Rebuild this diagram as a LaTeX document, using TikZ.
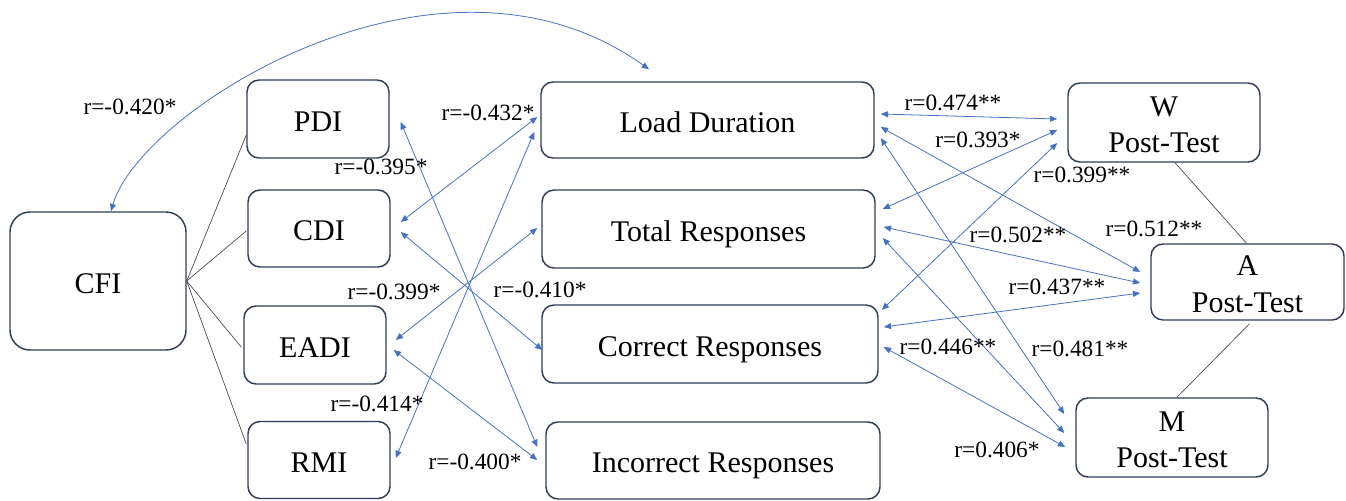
\documentclass[tikz,border=0pt]{standalone}
\usepackage{fontspec}
\setmainfont{Liberation Serif}
\usetikzlibrary{arrows.meta}
\definecolor{arrowblue}{RGB}{68,114,196}
\definecolor{boxline}{RGB}{47,62,88}
\definecolor{linkgray}{RGB}{70,70,70}
\begin{document}
\begin{tikzpicture}[x=0.75pt,y=-0.75pt,
  box/.style={draw=boxline, line width=1.1pt, rounded corners=9pt, fill=white, align=center, inner sep=0pt, font=\fontsize{22.5}{27.5}\selectfont},
  onebox/.style={box, text height=20pt, text depth=1.4pt},
  twobox/.style={box, text height=45.5pt},
  lab/.style={font=\fontsize{17.5}{20}\selectfont, inner sep=0pt},
  corr/.style={draw=arrowblue, line width=0.6pt, {Triangle[length=5.5pt,width=4.5pt]}-{Triangle[length=5.5pt,width=4.5pt]}},
  link/.style={draw=linkgray, line width=0.5pt}]
\useasboundingbox (0,0) rectangle (1346,500);

% boxes
\node[onebox, rounded corners=15pt, minimum width=132pt, minimum height=103.5pt] (CFI) at (98,281) {CFI};
\node[onebox, minimum width=106.5pt, minimum height=58.5pt] (PDI) at (318,119) {PDI};
\node[onebox, minimum width=106.5pt, minimum height=57.75pt] (CDI) at (319,228.5) {CDI};
\node[onebox, minimum width=106.5pt, minimum height=58.5pt] (EADI) at (315,345) {EADI};
\node[onebox, minimum width=106.5pt, minimum height=57.75pt] (RMI) at (319,460) {RMI};
\node[onebox, minimum width=249.75pt, minimum height=57pt] (LD) at (707.5,120) {Load Duration};
\node[onebox, minimum width=249.75pt, minimum height=58.5pt] (TR) at (708.5,229) {Total Responses};
\node[onebox, minimum width=252pt, minimum height=58.5pt] (CR) at (710,344) {Correct Responses};
\node[onebox, minimum width=250.5pt, minimum height=57.75pt] (IR) at (713,460.5) {Incorrect Responses};
\node[twobox, minimum width=144pt, minimum height=59.25pt] (W) at (1164,122.5) {W\\Post-Test};
\node[twobox, minimum width=144.75pt, minimum height=57pt] (A) at (1247.5,282) {A\\Post-Test};
\node[twobox, minimum width=144pt, minimum height=59.25pt] (M) at (1172,437.5) {M\\Post-Test};

% black links
\draw[link] (CFI.east) -- ([shift={(0,16)}]PDI.west);
\draw[link] (CFI.east) -- ([shift={(-1,2.5)}]CDI.west);
\draw[link] (CFI.east) -- ([shift={(-2,2)}]EADI.west);
\draw[link] (CFI.east) -- ([shift={(-1,-16)}]RMI.west);
\draw[link] ([shift={(11,0)}]W.south) -- ([shift={(-1,0)}]A.north);
\draw[link] ([shift={(2,3)}]A.south) -- ([shift={(5,0)}]M.north);

% arc
\draw[corr] ([shift={(13,0)}]CFI.north) .. controls (140,110) and (440,-80) .. ([shift={(-58.5,-12)}]LD.north);

% left cluster
\draw[corr] ([shift={(11,3)}]PDI.east) -- ([shift={(-8,-13.5)}]IR.west);
\draw[corr] ([shift={(10,3.5)}]CDI.east) -- ([shift={(1,6)}]CR.west);
\draw[corr] ([shift={(-3,-3)}]LD.west) -- ([shift={(10,-6.5)}]CDI.east);
\draw[corr] ([shift={(-6,12)}]LD.west) -- ([shift={(5,-2)}]RMI.east);
\draw[corr] ([shift={(-4,-1)}]TR.west) -- ([shift={(9,-5)}]EADI.east);
\draw[corr] ([shift={(7,5)}]EADI.east) -- ([shift={(-8,-0.5)}]IR.west);

% right cluster
\draw[corr] ([shift={(6,-6)}]LD.east) -- ([shift={(-10,-3.5)}]W.west);
\draw[corr] ([shift={(6,7)}]LD.east) -- ([shift={(-10,-10)}]A.west);
\draw[corr] ([shift={(6,18)}]LD.east) -- ([shift={(-11,-23.5)}]M.west);
\draw[corr] ([shift={(7,-20)}]TR.east) -- ([shift={(-10,7.5)}]W.west);
\draw[corr] ([shift={(8,-2)}]TR.east) -- ([shift={(-10,1)}]A.west);
\draw[corr] ([shift={(7,9)}]TR.east) -- ([shift={(-11,-4.5)}]M.west);
\draw[corr] ([shift={(3,-34)}]CR.east) -- ([shift={(-10,20.5)}]W.west);
\draw[corr] ([shift={(5,-17)}]CR.east) -- ([shift={(-10,11)}]A.west);
\draw[corr] ([shift={(5,3)}]CR.east) -- ([shift={(-10,9.5)}]M.west);

% labels
\node[lab] (l1) at (130,107) {r=-0.420*};
\node[lab] (l2) at (488,113) {r=-0.432*};
\node[lab] (l3) at (381,167) {r=-0.395*};
\node[lab] (l4) at (394,292) {r=-0.399*};
\node[lab] (l5) at (540,290) {r=-0.410*};
\node[lab] (l6) at (377,404) {r=-0.414*};
\node[lab] (l7) at (475,462) {r=-0.400*};
\node[lab] (l8) at (953,103) {r=0.474**};
\node[lab] (l9) at (978,140) {r=0.393*};
\node[lab] (l10) at (1082,175) {r=0.399**};
\node[lab] (l11) at (1018,235) {r=0.502**};
\node[lab] (l12) at (1154,229) {r=0.512**};
\node[lab] (l13) at (1057,287) {r=0.437**};
\node[lab] (l14) at (948,347) {r=0.446**};
\node[lab] (l15) at (1080,349) {r=0.481**};
\node[lab] (l16) at (997,450) {r=0.406*};
\end{tikzpicture}
\end{document}
